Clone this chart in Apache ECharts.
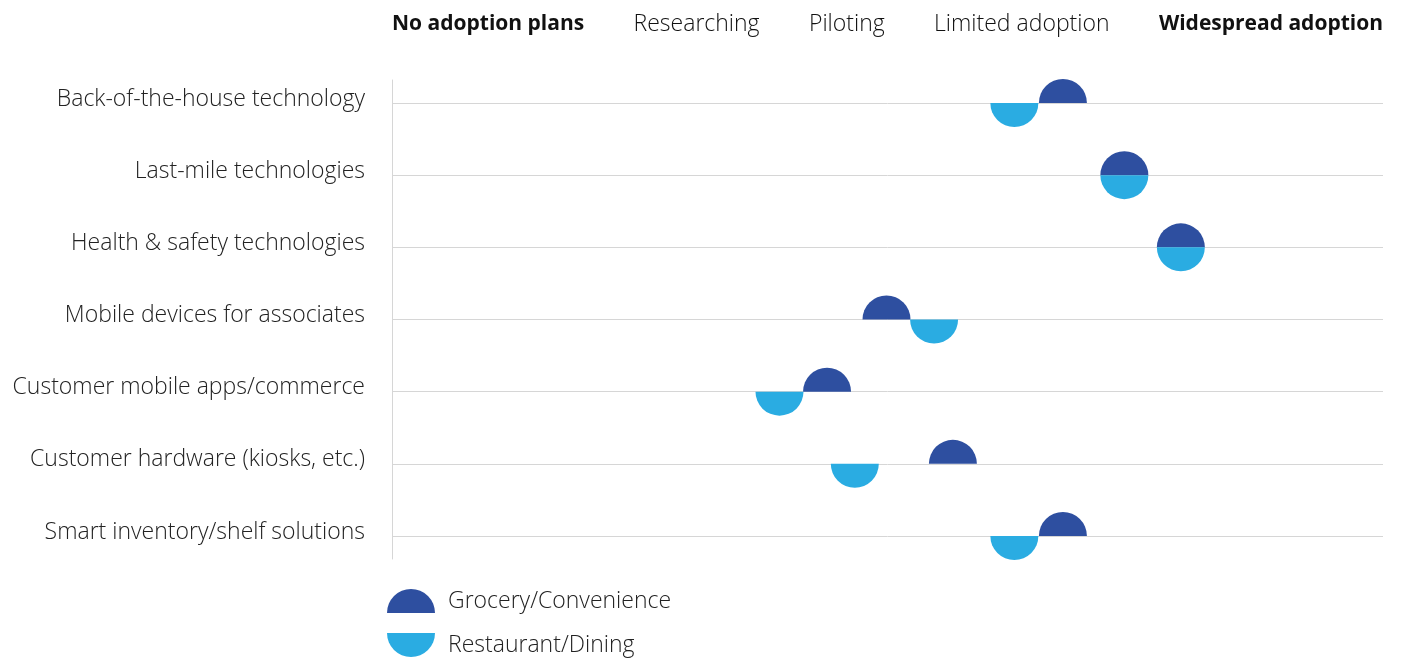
<!DOCTYPE html>
<html>
<head>
<meta charset="utf-8">
<script src="https://cdn.jsdelivr.net/npm/echarts@6/dist/echarts.min.js"></script>
<style>html,body{margin:0;padding:0;background:#fff}#c{width:1411px;height:658px}</style>
</head>
<body>
<div id="c"></div>
<script>
const categories = ['Back-of-the-house technology','Last-mile technologies','Health & safety technologies','Mobile devices for associates','Customer mobile apps/commerce','Customer hardware (kiosks, etc.)','Smart inventory/shelf solutions'];
const stages = ['No adoption plans','Researching','Piloting','Limited adoption','Widespread adoption'];
const stageBold = [true,false,false,false,true];
const grocery = [67.7, 73.9, 79.6, 49.9, 43.9, 56.6, 67.7];
const restaurant = [62.8, 73.9, 79.6, 54.7, 39.1, 46.7, 62.8];
const seriesNames = ['Grocery/Convenience','Restaurant/Dining'];

const FONT = 'Open Sans';
const FW = 300;
const FS = 23;
const GRID_LEFT = 392, GRID_W = 991;
const DARK = '#2E4FA0', LIGHT = '#2AACE2';

const chart = echarts.init(document.getElementById('c'));

function halfRender(upper){
  return function(params, api){
    const p = api.coord([api.value(0), api.value(1)]);
    return {
      type: 'sector',
      shape: {cx: p[0], cy: p[1], r0: 0, r: 24,
        startAngle: upper ? Math.PI : 0, endAngle: upper ? 2*Math.PI : Math.PI, clockwise: true},
      style: {fill: api.visual('color')}
    };
  };
}

const cv = document.createElement('canvas').getContext('2d');
const fontOf = i => (stageBold[i] ? 'bold 21px' : FW + ' ' + FS + 'px') + ' "' + FONT + '"';
const widths = stages.map((s,i)=>{cv.font = fontOf(i); return cv.measureText(s).width;});
const gap = (GRID_W - widths.reduce((a,b)=>a+b,0)) / (stages.length-1);
let xpos = GRID_LEFT;
const headerEls = stages.map((s,i)=>{
  const el = {type:'text', left: xpos, y: 24, style:{text: s, fill:'#111', font: fontOf(i), verticalAlign:'middle'}};
  xpos += widths[i] + gap;
  return el;
});

const legendText = {fontSize: FS, fontWeight: FW, color: '#222', fontFamily: FONT, padding:[0,0,0,8]};
chart.setOption({
  animation: false,
  backgroundColor: '#fff',
  textStyle: {fontFamily: FONT},
  graphic: headerEls,
  legend: [
    {left: 387, top: 589, itemWidth: 48, itemHeight: 24, padding: 0, textStyle: legendText,
     data: [{name: seriesNames[0], icon: 'path://M0,24A24,24,0,0,1,48,24Z'}]},
    {left: 387, top: 633, itemWidth: 48, itemHeight: 24, padding: 0, textStyle: legendText,
     data: [{name: seriesNames[1], icon: 'path://M0,0A24,24,0,0,0,48,0Z'}]}
  ],
  grid: [
    {left: GRID_LEFT, width: GRID_W, top: 103, height: 433},
    {left: GRID_LEFT, width: GRID_W, top: 80, height: 479}
  ],
  xAxis: [
    {type:'value', gridIndex:0, min:0, max:100, show:false},
    {type:'value', gridIndex:1, min:0, max:100, show:false}
  ],
  yAxis: [
    {type:'category', gridIndex:0, data: categories, inverse: true, boundaryGap: false,
     axisLine:{show:false}, axisTick:{show:false},
     splitLine:{show:true, interval:0, lineStyle:{color:'#d6d6d6', width:1}},
     axisLabel:{margin:27, fontSize:FS, fontWeight:FW, color:'#222', fontFamily: FONT, interval:0,
                verticalAlign:'bottom', lineHeight:8}},
    {type:'value', gridIndex:1, min:0, max:1,
     axisLine:{show:true, lineStyle:{color:'#d6d6d6', width:1}}, axisTick:{show:false},
     axisLabel:{show:false}, splitLine:{show:false}}
  ],
  series: [
    {name: seriesNames[0], type:'custom', xAxisIndex:0, yAxisIndex:0, itemStyle:{color:DARK},
     renderItem: halfRender(true), data: grocery.map((v,i)=>[v,i]), z: 3},
    {name: seriesNames[1], type:'custom', xAxisIndex:0, yAxisIndex:0, itemStyle:{color:LIGHT},
     renderItem: halfRender(false), data: restaurant.map((v,i)=>[v,i]), z: 3}
  ]
});
</script>
</body>
</html>
